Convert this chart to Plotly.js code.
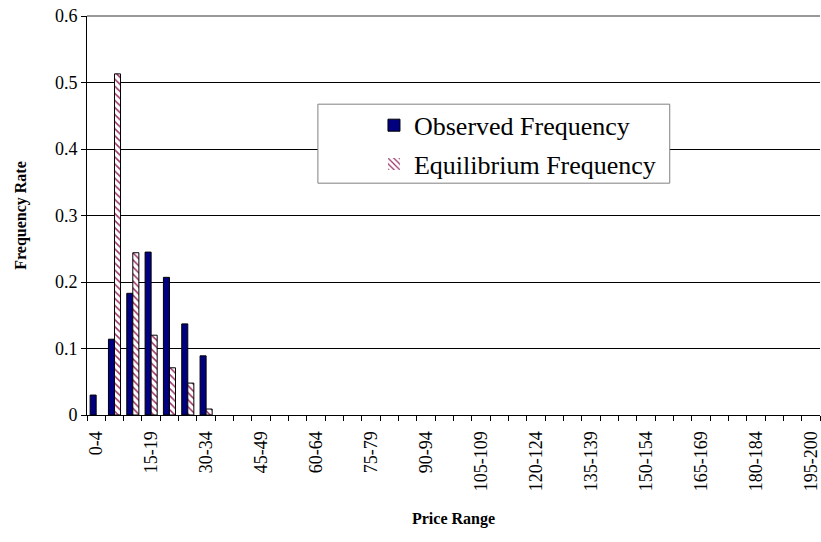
<!DOCTYPE html>
<html>
<head>
<meta charset="utf-8">
<script src="https://cdn.plot.ly/plotly-3.0.1.min.js"></script>
<style>html,body{margin:0;padding:0;background:#fff;}#chart{width:821px;height:542px;}</style>
</head>
<body>
<div id="chart"></div>
<script>
var categories = ["0-4","5-9","10-14","15-19","20-24","25-29","30-34","35-39","40-44","45-49",
  "50-54","55-59","60-64","65-69","70-74","75-79","80-84","85-89","90-94","95-99",
  "100-104","105-109","110-114","115-119","120-124","125-129","130-134","135-139","140-144","145-149",
  "150-154","155-159","160-164","165-169","170-174","175-179","180-184","185-189","190-194","195-200"];
var observed = [0.030,0.114,0.183,0.245,0.207,0.137,0.089,0,0,0,0,0,0,0,0,0,0,0,0,0,0,0,0,0,0,0,0,0,0,0,0,0,0,0,0,0,0,0,0,0];
var equilibrium = [0,0.513,0.244,0.120,0.071,0.048,0.009,0,0,0,0,0,0,0,0,0,0,0,0,0,0,0,0,0,0,0,0,0,0,0,0,0,0,0,0,0,0,0,0,0];
var yTicks = [0,0.1,0.2,0.3,0.4,0.5,0.6];

var idx = categories.map(function(c,i){return i;});
var labelIdx = idx.filter(function(i){return i%3===0;});
var labelText = labelIdx.map(function(i){return categories[i];});
function lineWidths(vals){return vals.map(function(v){return v>0?1:0;});}

var font = "Times New Roman, Liberation Serif, DejaVu Serif, serif";
var traces = [
  {type:"bar", name:"Observed Frequency", x:idx, y:observed, text:categories, hoverinfo:"text+y",
   textposition:"none", legendgroup:"a",
   marker:{color:"#000080", line:{color:"#000000", width:lineWidths(observed)}}},
  {type:"bar", name:"Equilibrium Frequency", x:idx, y:equilibrium, text:categories, hoverinfo:"text+y",
   textposition:"none", legendgroup:"b",
   marker:{color:"#ffffff", line:{color:"#000000", width:lineWidths(equilibrium)},
     pattern:{shape:"\\", fgcolor:"#993366", bgcolor:"#ffffff", size:5, solidity:0.3}}}
];

var layout = {
  width:821, height:542,
  margin:{l:87, r:1, t:16, b:127},
  paper_bgcolor:"#ffffff", plot_bgcolor:"#ffffff",
  font:{family:font, size:16, color:"#000"},
  barmode:"group", bargap:0.34, bargroupgap:0,
  showlegend:true,
  legend:{x:0.3915, y:0.785, xanchor:"left", yanchor:"top", bgcolor:"rgba(0,0,0,0)",
    borderwidth:0, font:{family:font, size:26, color:"#000"},
    traceorder:"grouped", tracegroupgap:2},
  xaxis:{range:[-0.5,39.5], tickmode:"array", tickvals:labelIdx, ticktext:labelText,
    tickangle:-90, ticks:"", showgrid:false, zeroline:false, ticklabelstandoff:8,
    showline:true, linecolor:"#000", linewidth:1,
    tickfont:{family:font, size:18, color:"#000"},
    minor:{tick0:-0.5, dtick:1, ticks:"outside", ticklen:5, tickcolor:"#000", showgrid:false},
    title:{text:"<b>Price Range</b>", font:{family:font, size:16, color:"#000"}, standoff:22}},
  yaxis:{range:[0,0.6], tickmode:"array", tickvals:yTicks, ticktext:yTicks.map(String),
    ticks:"outside", ticklen:5, tickcolor:"#000",
    showgrid:true, gridcolor:"#000", gridwidth:1, zeroline:false,
    showline:true, linecolor:"#000", linewidth:1,
    tickfont:{family:font, size:18, color:"#000"},
    title:{text:"<b>Frequency Rate</b>", font:{family:font, size:16, color:"#000"}, standoff:24}},
  shapes:[
    {type:"line", xref:"paper", yref:"paper", x0:0, x1:1, y0:1, y1:1, line:{color:"#999999", width:2}},
    {type:"rect", xref:"paper", yref:"paper", x0:0.315, x1:0.795, y0:0.581, y1:0.779,
     layer:"above", fillcolor:"#ffffff", line:{color:"#808080", width:1}}
  ]
};
Plotly.newPlot("chart", traces, layout, {displayModeBar:false, staticPlot:true});
</script>
</body>
</html>
